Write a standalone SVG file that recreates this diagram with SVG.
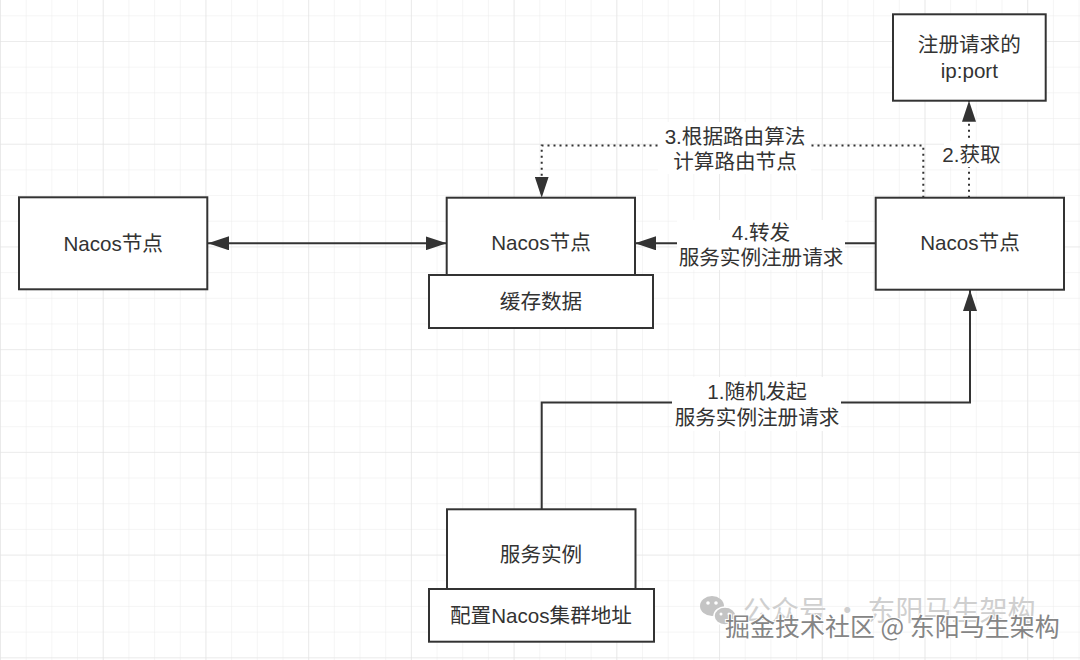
<svg xmlns="http://www.w3.org/2000/svg" width="1080" height="660" viewBox="0 0 1080 660">
<style>
.box{fill:#fff;stroke:#333;stroke-width:2}
.t{font-family:"Liberation Sans","Noto Sans CJK SC",sans-serif;font-size:20.6px;fill:#333;text-anchor:middle}
.ln{fill:none;stroke:#333;stroke-width:2}
.dot{fill:none;stroke:#333;stroke-width:2;stroke-dasharray:2 4}
.lbg{fill:#fff}
</style>
<defs>
<pattern id="gMinor" width="25.68" height="25.68" patternUnits="userSpaceOnUse" x="0" y="15.3">
<path d="M0,0 H25.68 M0,0 V25.68" fill="none" stroke="#ececec" stroke-width="1"/>
</pattern>
<pattern id="gMajor" width="102.72" height="102.72" patternUnits="userSpaceOnUse" x="0" y="41">
<path d="M0,0 H102.72 M0,0 V102.72" fill="none" stroke="#e3e3e3" stroke-width="1.2"/>
</pattern>
<marker id="arr" markerUnits="userSpaceOnUse" markerWidth="22" markerHeight="14" refX="21" refY="7" orient="auto-start-reverse">
<path d="M0,0 L21,7 L0,14 z" fill="#333"/>
</marker>
</defs>
<rect width="1080" height="660" fill="#fff"/>
<rect width="1080" height="660" fill="url(#gMinor)"/>
<rect width="1080" height="660" fill="url(#gMajor)"/>

<g id="connectors">
<line class="ln" x1="208" y1="243.3" x2="446.7" y2="243.3" marker-start="url(#arr)" marker-end="url(#arr)"/>
<line class="ln" x1="875.7" y1="243.3" x2="635" y2="243.3" marker-end="url(#arr)"/>
<rect class="lbg" x="677" y="220" width="168" height="50"/>
<text class="t" x="761" y="240">4.转发</text>
<text class="t" x="761" y="265">服务实例注册请求</text>
<path class="dot" d="M923.3,197.7 V145.5 H541.7 V197.7" marker-end="url(#arr)"/>
<rect class="lbg" x="658" y="122" width="153" height="52"/>
<text class="t" x="735" y="143.5">3.根据路由算法</text>
<text class="t" x="735" y="168.5">计算路由节点</text>
<path class="dot" d="M969,197.7 V100.7" marker-end="url(#arr)"/>
<rect class="lbg" x="944" y="141" width="56" height="26"/>
<text class="t" x="971.5" y="162">2.获取</text>
<path class="ln" d="M541.7,509.3 V402.5 H970 V290" marker-end="url(#arr)"/>
<rect class="lbg" x="672" y="377" width="169" height="54"/>
<text class="t" x="757" y="399">1.随机发起</text>
<text class="t" x="757" y="425">服务实例注册请求</text>
</g>

<g id="node-left">
<rect class="box" x="19" y="197.3" width="188.3" height="92"/>
<text class="t" x="113.2" y="250.5">Nacos节点</text>
</g>
<g id="node-middle">
<rect class="box" x="446.7" y="197.7" width="188.3" height="77.3"/>
<text class="t" x="541" y="250">Nacos节点</text>
</g>
<g id="node-cache">
<rect class="box" x="429" y="275" width="224" height="53"/>
<text class="t" x="541" y="308.5">缓存数据</text>
</g>
<g id="node-right">
<rect class="box" x="875.7" y="197.7" width="188.3" height="92"/>
<text class="t" x="970" y="250">Nacos节点</text>
</g>
<g id="node-ipport">
<rect class="box" x="893" y="14.3" width="152.7" height="86.4"/>
<text class="t" x="969.3" y="52">注册请求的</text>
<text class="t" x="969.3" y="77.5">ip:port</text>
</g>
<g id="node-instance">
<rect class="box" x="447" y="509.3" width="188.5" height="79.7"/>
<text class="t" x="541" y="562">服务实例</text>
</g>
<g id="node-config">
<rect class="box" x="429" y="589" width="225" height="52.7"/>
<text class="t" x="541" y="623">配置Nacos集群地址</text>
</g>

<g id="watermark">
<g fill="#c4c4c4">
<ellipse cx="712" cy="606" rx="12" ry="10"/>
<ellipse cx="725" cy="616" rx="11" ry="9" stroke="#fff" stroke-width="1.5"/>
</g>
<g fill="#fff">
<circle cx="708" cy="603" r="1.8"/><circle cx="716" cy="603" r="1.8"/>
<circle cx="721" cy="614" r="1.5"/><circle cx="729" cy="614" r="1.5"/>
</g>
<text x="743" y="621" font-family="'Noto Sans CJK SC',sans-serif" font-size="28" fill="#cfcfcf">公众号 · 东阳马生架构</text>
<text x="725" y="636" font-family="'Noto Sans CJK SC',sans-serif" font-size="25" fill="#858585" stroke="#fff" stroke-width="2" paint-order="stroke">掘金技术社区 @ 东阳马生架构</text>
</g>
</svg>
